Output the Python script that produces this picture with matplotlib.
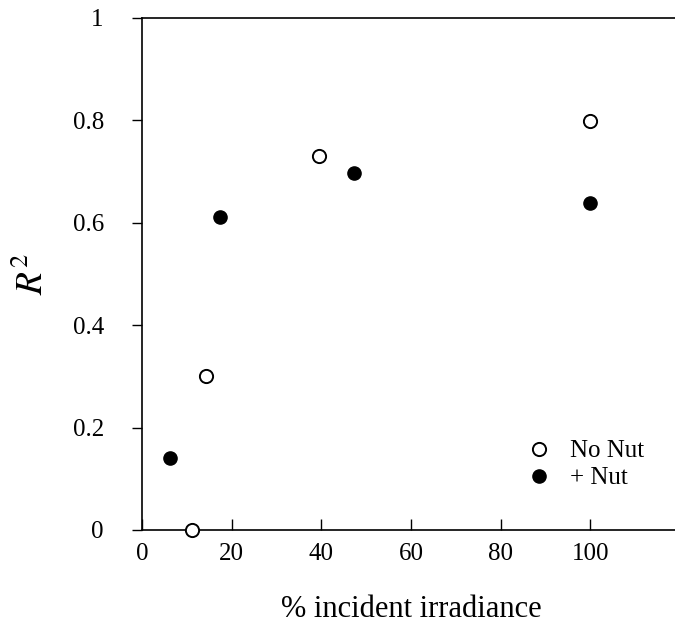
import matplotlib
matplotlib.use('Agg')
import matplotlib.pyplot as plt

plt.rcParams['font.family'] = ['Liberation Serif', 'DejaVu Serif']
plt.rcParams['mathtext.fontset'] = 'stix'

# Data
no_nut_x = [11.1, 14.3, 39.4, 100.0]
no_nut_y = [0.0, 0.301, 0.730, 0.799]
nut_x = [6.25, 17.3, 47.3, 100.0]
nut_y = [0.140, 0.611, 0.698, 0.638]
xticks = [0, 20, 40, 60, 80, 100]
yticks = [0, 0.2, 0.4, 0.6, 0.8, 1.0]
ytick_labels = ['0', '0.2', '0.4', '0.6', '0.8', '1']

fig = plt.figure(figsize=(6.75, 6.23), dpi=100)
ax = fig.add_axes([142/675, 93/623, 538/675, 512/623])

ax.plot(no_nut_x, no_nut_y, 'o', mfc='white', mec='black', mew=1.4, ms=9.5,
        clip_on=False, zorder=5, label='No Nut')
ax.plot(nut_x, nut_y, 'o', mfc='black', mec='black', mew=1.0, ms=9.5,
        clip_on=False, zorder=5, label='+ Nut')

ax.set_xlim(0, 120)
ax.set_ylim(0, 1)
ax.set_xticks(xticks)
ax.set_xticklabels([str(t) for t in xticks])
ax.set_yticks(yticks)
ax.set_yticklabels(ytick_labels)

for s in ax.spines.values():
    s.set_linewidth(1.2)

ax.tick_params(axis='x', direction='in', length=8, width=1.0, pad=9, labelsize=18)
ax.tick_params(axis='y', direction='out', length=7, width=1.0, pad=20.5, labelsize=18)

ax.set_xlabel('% incident irradiance', fontsize=22, labelpad=22)
ax.set_ylabel(r'$\mathit{R}^{2}$', fontsize=27)
ax.yaxis.set_label_coords(-0.169, 0.5)

ax.legend(loc='upper left', bbox_to_anchor=(0.7147, 0.176), frameon=False,
          fontsize=18, handlelength=1.0, handletextpad=0.74, borderpad=0,
          borderaxespad=0, labelspacing=0.18)

fig.savefig('out.png', dpi=100)
